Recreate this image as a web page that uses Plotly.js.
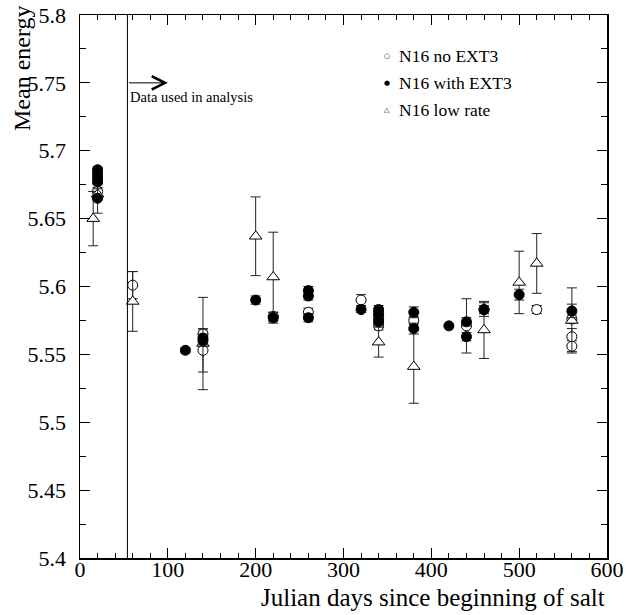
<!DOCTYPE html>
<html>
<head>
<meta charset="utf-8">
<script src="https://cdn.plot.ly/plotly-3.0.1.min.js"></script>
<style>html,body{margin:0;padding:0;background:#fff;}#chart{width:628px;height:615px;}</style>
</head>
<body>
<div id="chart"></div>
<script>
// ---- data ----
const noExtX = [20, 60, 140, 140, 220, 260, 320, 340, 340, 340, 380, 440, 460, 520, 560, 560, 560];
const noExtY = [5.670, 5.601, 5.565, 5.553, 5.578, 5.581, 5.590, 5.581, 5.576, 5.571, 5.575, 5.571, 5.583, 5.583, 5.576, 5.563, 5.556];
const noExtErr = [0.003, 0.010, 0.003, 0.016, 0.003, 0.003, 0.004, 0.003, 0.003, 0.003, 0.003, 0.020, 0.003, 0.003, 0.003, 0.006, 0.004];

const withExtX = [20, 20, 20, 20, 20, 120, 140, 140, 200, 220, 260, 260, 260, 320, 340, 340, 340, 380, 380, 420, 440, 440, 460, 500, 560];
const withExtY = [5.686, 5.683, 5.680, 5.677, 5.665, 5.553, 5.560, 5.562, 5.590, 5.577, 5.597, 5.593, 5.577, 5.583, 5.583, 5.579, 5.574, 5.581, 5.569, 5.571, 5.574, 5.563, 5.583, 5.594, 5.582];
const withExtErr = [0.002, 0.002, 0.002, 0.002, 0.011, 0.002, 0.003, 0.003, 0.003, 0.004, 0.003, 0.003, 0.003, 0.002, 0.003, 0.003, 0.003, 0.004, 0.004, 0.001, 0.003, 0.003, 0.005, 0.004, 0.005];

const lowRateX = [15, 20, 60, 140, 200, 220, 340, 380, 460, 500, 520, 560];
const lowRateY = [5.650, 5.668, 5.589, 5.558, 5.637, 5.607, 5.559, 5.541, 5.568, 5.603, 5.617, 5.575];
const lowRateErr = [0.020, 0.004, 0.022, 0.034, 0.029, 0.033, 0.011, 0.027, 0.021, 0.023, 0.022, 0.024];

const seriesNames = ["N16 no EXT3", "N16 with EXT3", "N16 low rate"];
const legendGlyphs = ["\u25CB", "\u25CF", "\u25B3"];
const cutDay = 54;      // start of data used in analysis
const arrowEndDay = 100;
const arrowLevel = 5.75;
const noteText = "Data used in analysis";
const noteLevel = 5.7396;

const xTitle = "Julian days since beginning of salt";
const yTitle = "Mean energy";

// ---- styling ----
const serif = "'Liberation Serif', 'Times New Roman', Times, serif";
const errStyle = (arr) => ({type: "data", array: arr, visible: true, color: "#222", thickness: 1, width: 5});

const traces = [
  {
    name: seriesNames[0], type: "scatter", mode: "markers", x: noExtX, y: noExtY,
    error_y: errStyle(noExtErr),
    marker: {symbol: "circle", size: 10, color: "white", line: {color: "black", width: 1}},
    showlegend: false, cliponaxis: false
  },
  {
    name: seriesNames[2], type: "scatter", mode: "markers", x: lowRateX, y: lowRateY,
    error_y: errStyle(lowRateErr),
    marker: {symbol: "triangle-up", size: 11, color: "white", line: {color: "black", width: 1}},
    showlegend: false, cliponaxis: false
  },
  {
    name: seriesNames[1], type: "scatter", mode: "markers", x: withExtX, y: withExtY,
    error_y: errStyle(withExtErr),
    marker: {symbol: "circle", size: 10, color: "black", line: {color: "black", width: 1}},
    showlegend: false, cliponaxis: false
  }
];

const legendRowsY = [0.925, 0.874, 0.825];
const annotations = [];
for (let i = 0; i < 3; i++) {
  annotations.push({
    xref: "paper", yref: "paper", x: 0.582, y: legendRowsY[i], xanchor: "center", yanchor: "middle",
    text: legendGlyphs[i], showarrow: false, font: {family: "DejaVu Sans", size: 7, color: "black"}
  });
  annotations.push({
    xref: "paper", yref: "paper", x: 0.601, y: legendRowsY[i], xanchor: "left", yanchor: "middle",
    text: seriesNames[i], showarrow: false, font: {family: serif, size: 17.5, color: "black"}
  });
}
// arrow
annotations.push({
  xref: "x", yref: "y", x: arrowEndDay, y: arrowLevel, axref: "x", ayref: "y", ax: cutDay, ay: arrowLevel,
  text: "", showarrow: true, arrowhead: 5, arrowsize: 2.6, arrowwidth: 1, arrowcolor: "black"
});
// note
annotations.push({
  xref: "x", yref: "y", x: cutDay + 0.5, y: noteLevel, xanchor: "left", yanchor: "middle",
  text: noteText, showarrow: false, font: {family: serif, size: 14.5, color: "black"}
});
// axis titles
annotations.push({
  xref: "paper", yref: "paper", x: 1, y: 0, xanchor: "right", yanchor: "middle", yshift: -39,
  text: xTitle, showarrow: false, font: {family: serif, size: 25, color: "black"}
});
annotations.push({
  xref: "paper", yref: "paper", x: 0, y: 1, xanchor: "center", yanchor: "top", xshift: -58, yshift: 12,
  text: yTitle, textangle: -90, showarrow: false, font: {family: serif, size: 24, color: "black"}
});

const axisCommon = {
  showgrid: false, zeroline: false, showline: true, linecolor: "black", linewidth: 1.5,
  mirror: "allticks", ticks: "inside", ticklen: 10, tickwidth: 1, tickcolor: "black",
  tickfont: {family: serif, size: 22, color: "black"}
};

const layout = {
  width: 628, height: 615,
  margin: {l: 80, r: 21, t: 15, b: 57},
  paper_bgcolor: "white", plot_bgcolor: "white",
  font: {family: serif, color: "black"},
  showlegend: false,
  xaxis: Object.assign({}, axisCommon, {
    range: [0, 600], dtick: 100, tick0: 0, ticklabelstandoff: -9,
    minor: {dtick: 20, ticks: "inside", ticklen: 5, tickcolor: "black", showgrid: false}
  }),
  yaxis: Object.assign({}, axisCommon, {
    range: [5.4, 5.8], dtick: 0.05, tick0: 5.4, ticklabelstandoff: 8,
    minor: {dtick: 0.025, ticks: "inside", ticklen: 6, tickcolor: "black", showgrid: false}
  }),
  shapes: [{
    type: "line", xref: "x", yref: "paper", x0: cutDay, x1: cutDay, y0: 0, y1: 1,
    line: {color: "black", width: 1}
  }],
  annotations: annotations
};

Plotly.newPlot("chart", traces, layout, {displayModeBar: false, staticPlot: true});
</script>
</body>
</html>
